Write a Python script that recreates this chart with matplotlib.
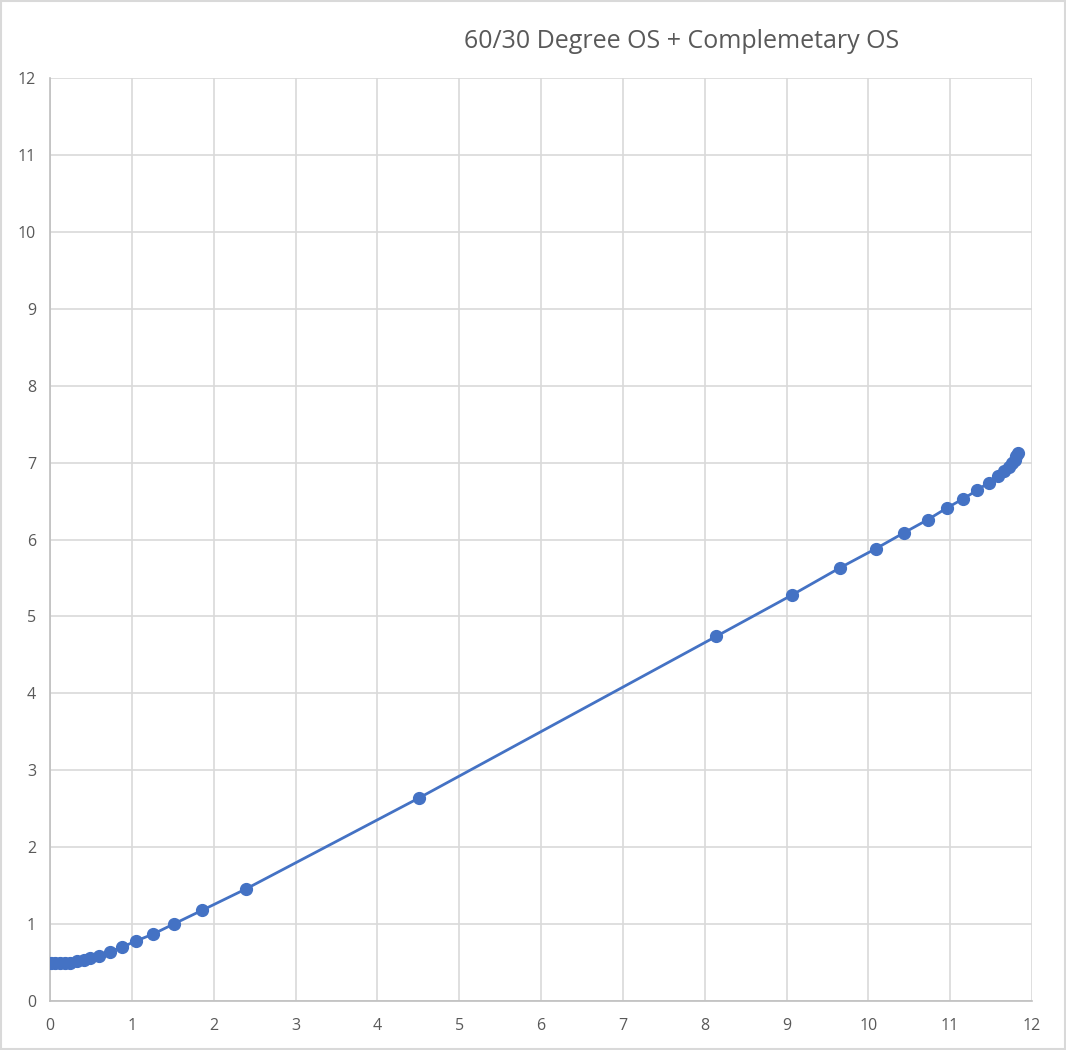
import numpy as np
import matplotlib
matplotlib.use('Agg')
import matplotlib.pyplot as plt

plt.rcParams['font.family'] = ['Open Sans', 'DejaVu Sans']

# points
x = [0.01, 0.06, 0.12, 0.18, 0.25, 0.33, 0.41, 0.49, 0.60, 0.73, 0.88, 1.05,
     1.26, 1.51, 1.86, 2.40, 4.51, 8.14, 9.07, 9.65, 10.09, 10.44, 10.73,
     10.96, 11.16, 11.33, 11.47, 11.58, 11.66, 11.72, 11.76, 11.79, 11.81, 11.83]
y = [0.49, 0.49, 0.49, 0.49, 0.50, 0.52, 0.53, 0.56, 0.59, 0.64, 0.70, 0.78,
     0.87, 1.00, 1.18, 1.46, 2.64, 4.74, 5.28, 5.63, 5.88, 6.09, 6.26,
     6.41, 6.53, 6.64, 6.74, 6.82, 6.89, 6.94, 6.99, 7.04, 7.08, 7.13]

title = '60/30 Degree OS + Complemetary OS'
ticks = list(range(0, 13))

fig = plt.figure(figsize=(10.66, 10.5), dpi=100)
ax = fig.add_axes([50/1066, 49/1050, 982/1066, 923/1050])

ax.plot(x, y, color='#4472C4', lw=2, marker='o', ms=8.5, zorder=3)

ax.set_xlim(0, 12)
ax.set_ylim(0, 12)
ax.set_xticks(ticks)
ax.set_yticks(ticks)
ax.grid(True, color='#d9d9d9', lw=1.2)
ax.set_axisbelow(True)
for s in ['top', 'right']:
    ax.spines[s].set_visible(False)
for s in ['left', 'bottom']:
    ax.spines[s].set_color('#bfbfbf')
    ax.spines[s].set_linewidth(1.2)
ax.tick_params(length=0, colors='#595959', labelsize=11.5)
ax.tick_params(axis='x', pad=12)
ax.tick_params(axis='y', pad=10)

fig.text(682/1066, 1 - 41/1050, title, ha='center', va='center',
         fontsize=18, color='#595959')

# outer chart border
fig.patches.append(plt.Rectangle((0.001, 0.001), 0.998, 0.998, transform=fig.transFigure,
                                 fill=False, edgecolor='#d9d9d9', lw=1.5))

fig.savefig('out.png', dpi=100)
